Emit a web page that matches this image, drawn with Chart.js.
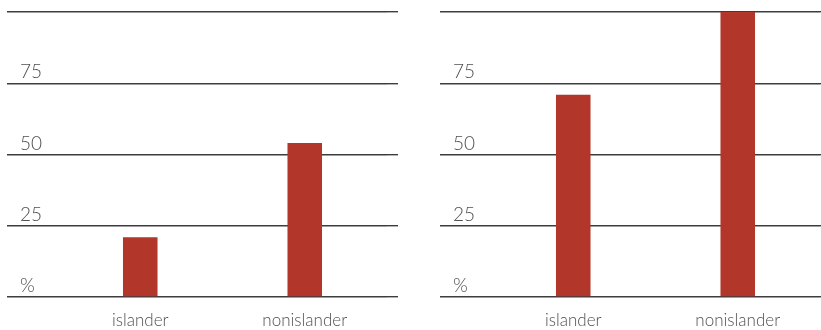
<!DOCTYPE html>
<html>
<head>
<meta charset="utf-8">
<script src="https://cdn.jsdelivr.net/npm/chart.js@4.4.1/dist/chart.umd.min.js"></script>
<style>
  html, body { margin: 0; padding: 0; background: #fff; overflow: hidden; }
  .wrap { position: relative; width: 821px; height: 330px; overflow: hidden; }
  .panel { position: absolute; top: 0; width: 410px; height: 330px; }
  #leftPanel { left: 0; }
  #rightPanel { left: 433px; }
</style>
</head>
<body>
<div class="wrap">
  <div class="panel" id="leftPanel"><canvas id="chartLeft"></canvas></div>
  <div class="panel" id="rightPanel"><canvas id="chartRight"></canvas></div>
</div>
<script>
// categories + values
const categories = ["islander", "nonislander"];
const leftValues = [21, 54];
const rightValues = [71, 100];
const yTicks = [0, 25, 50, 75, 100];
const yTickLabels = ["%", "25", "50", "75", ""];

const barColor = "#b3362a";
const lineColor = "#3d3d3d";
const textColor = "#4f4f4f";

Chart.defaults.font.family = "Lato, 'Open Sans', sans-serif";
Chart.defaults.font.weight = "300";
Chart.defaults.color = textColor;

function makeChart(id, values) {
  const canvas = document.getElementById(id);
  canvas.width = 410;
  canvas.height = 330;
  const ctx = canvas.getContext("2d");

  const config = {
    type: "bar",
    data: {
      labels: categories,
      datasets: [
        {
          data: values,
          backgroundColor: barColor,
          borderWidth: 0,
          categoryPercentage: 1,
          barPercentage: 0.21,
        },
      ],
    },
    options: {
      responsive: false,
      animation: false,
      events: [],
      layout: {
        padding: { top: 12, left: 20, right: 12, bottom: 0 },
      },
      plugins: {
        legend: { display: false },
        tooltip: { enabled: false },
      },
      scales: {
        x: {
          grid: { display: false, drawTicks: false },
          border: { display: false },
          afterFit: (scale) => {
            scale.height = 33;
          },
          ticks: {
            padding: 13,
            color: textColor,
            font: { size: 17 },
          },
        },
        y: {
          min: 0,
          max: 100,
          afterBuildTicks: (scale) => {
            scale.ticks = yTicks.map((v) => ({ value: v }));
          },
          afterFit: (scale) => {
            scale.width = 38;
          },
          grid: {
            color: lineColor,
            lineWidth: 1.4,
            tickLength: 51,
          },
          border: { display: false },
          ticks: {
            crossAlign: "far",
            labelOffset: -11,
            padding: 0,
            color: textColor,
            font: { size: 19 },
            callback: function (value, index) {
              return yTickLabels[index];
            },
          },
        },
        y2: {
          position: "right",
          min: 0,
          max: 100,
          afterBuildTicks: (scale) => {
            scale.ticks = yTicks.map((v) => ({ value: v }));
          },
          grid: {
            drawOnChartArea: false,
            color: lineColor,
            lineWidth: 1.4,
            tickLength: 11,
          },
          border: { display: false },
          ticks: { display: false },
        },
      },
    },
  };

  return new Chart(ctx, config);
}

makeChart("chartLeft", leftValues);
makeChart("chartRight", rightValues);
</script>
</body>
</html>
